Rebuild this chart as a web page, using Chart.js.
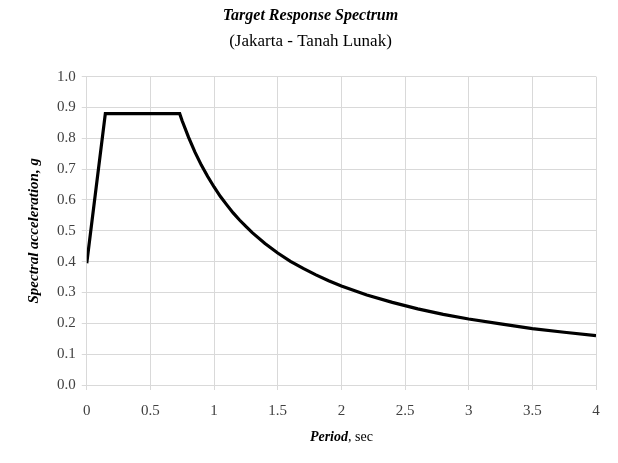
<!DOCTYPE html>
<html lang="en">
<head>
    <meta charset="UTF-8">
    <title>Target Response Spectrum</title>
    <script src="https://cdn.jsdelivr.net/npm/chart.js"></script>
    <style>
        html, body { margin: 0; padding: 0; background: #fff; }
        #wrap { width: 618px; height: 463px; }
    </style>
</head>
<body>
    <div id="wrap"><canvas id="chart" width="618" height="463"></canvas></div>

    <script>
        // period (sec) and spectral acceleration (g)
        const periods = [0, 0.146, 0.73, 0.75, 0.8, 0.85, 0.9, 0.95, 1.0, 1.05, 1.1, 1.15, 1.2, 1.25, 1.3,
                         1.4, 1.5, 1.6, 1.7, 1.8, 1.9, 2.0, 2.2, 2.4, 2.6, 2.8, 3.0, 3.25, 3.5, 3.75, 4.0];
        const accel = [0.395, 0.88, 0.88, 0.856, 0.803, 0.755, 0.713, 0.676, 0.642, 0.611, 0.584, 0.558, 0.535, 0.514, 0.494,
                       0.459, 0.428, 0.401, 0.378, 0.357, 0.338, 0.321, 0.292, 0.268, 0.247, 0.229, 0.214, 0.198, 0.183, 0.171, 0.160];
        const titleText = 'Target Response Spectrum';
        const subtitleText = '(Jakarta - Tanah Lunak)';
        const yTitle = 'Spectral acceleration, g';

        const serif = '"Liberation Serif", "Times New Roman", serif';

        // x axis title has bold italic "Period" and plain ", sec"
        const xTitlePlugin = {
            id: 'xTitle',
            afterDraw(chart) {
                const ctx = chart.ctx;
                const area = chart.chartArea;
                const cx = (area.left + area.right) / 2;
                const y = 437;
                const a = 'Period', b = ', sec';
                ctx.save();
                ctx.fillStyle = '#000';
                ctx.textBaseline = 'middle';
                ctx.font = 'italic bold 14px ' + serif;
                const wa = ctx.measureText(a).width;
                ctx.font = '14px ' + serif;
                const wb = ctx.measureText(b).width;
                const x0 = cx - (wa + wb) / 2;
                ctx.font = 'italic bold 14px ' + serif;
                ctx.fillText(a, x0, y);
                ctx.font = '14px ' + serif;
                ctx.fillText(b, x0 + wa, y);
                ctx.restore();
            }
        };

        new Chart(document.getElementById('chart').getContext('2d'), {
            type: 'scatter',
            data: {
                datasets: [{
                    data: periods.map((p, i) => ({ x: p, y: accel[i] })),
                    showLine: true,
                    borderColor: '#000',
                    borderWidth: 3.2,
                    pointRadius: 0,
                    tension: 0,
                    borderJoinStyle: 'miter'
                }]
            },
            options: {
                responsive: false,
                animation: false,
                layout: { padding: { left: 25, right: 22, top: 0, bottom: 31 } },
                plugins: {
                    legend: { display: false },
                    tooltip: { enabled: false },
                    title: {
                        display: true,
                        text: titleText,
                        color: '#000',
                        font: { family: serif, size: 16, weight: 'bold', style: 'italic' },
                        padding: { top: 6, bottom: 4 }
                    },
                    subtitle: {
                        display: true,
                        text: subtitleText,
                        color: '#000',
                        font: { family: serif, size: 17 },
                        padding: { top: 2, bottom: 25 }
                    }
                },
                scales: {
                    x: {
                        type: 'linear',
                        min: 0,
                        max: 4,
                        ticks: {
                            stepSize: 0.5,
                            color: '#404040',
                            font: { family: serif, size: 15 },
                            padding: 12,
                            callback: v => String(v)
                        },
                        grid: { color: '#d9d9d9', lineWidth: 1, tickLength: 5, drawTicks: true },
                        border: { color: '#d9d9d9' }
                    },
                    y: {
                        min: 0,
                        max: 1,
                        ticks: {
                            stepSize: 0.1,
                            color: '#404040',
                            font: { family: serif, size: 15 },
                            padding: 6,
                            callback: v => v.toFixed(1)
                        },
                        grid: { color: '#d9d9d9', lineWidth: 1, tickLength: 5 },
                        border: { color: '#d9d9d9' },
                        title: {
                            display: true,
                            text: yTitle,
                            color: '#000',
                            font: { family: serif, size: 15, weight: 'bold', style: 'italic' },
                            padding: { top: 0, bottom: 8 }
                        }
                    }
                }
            },
            plugins: [xTitlePlugin]
        });
    </script>
</body>
</html>
